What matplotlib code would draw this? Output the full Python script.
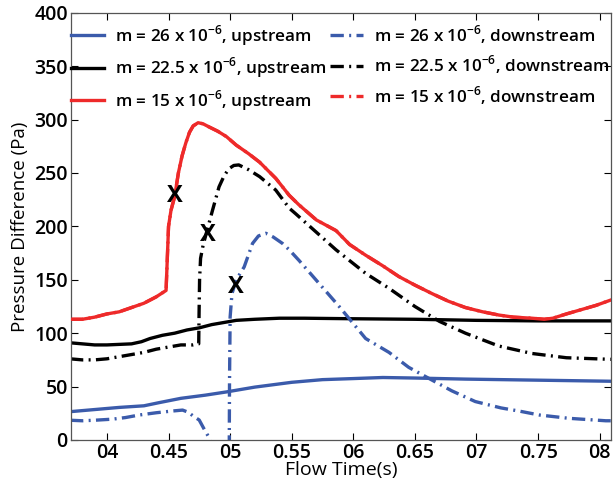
import numpy as np
import matplotlib
matplotlib.use('Agg')
import matplotlib.pyplot as plt

# ---- data ----
red_up_x = [0.370, 0.380, 0.390, 0.400, 0.410, 0.420, 0.430, 0.440, 0.448, 0.449, 0.450, 0.452,
            0.455, 0.458, 0.461, 0.464, 0.467, 0.470, 0.474, 0.478, 0.483, 0.490, 0.497, 0.505,
            0.515, 0.524, 0.537, 0.548, 0.556, 0.570, 0.586, 0.597, 0.610, 0.624, 0.637, 0.650,
            0.664, 0.677, 0.691, 0.705, 0.718, 0.730, 0.745, 0.755, 0.762, 0.773, 0.785, 0.797, 0.809]
red_up_y = [113, 113, 115, 118, 120, 124, 128, 134, 140, 170, 200, 215,
            228, 250, 266, 278, 288, 294, 297, 296, 293, 289, 284, 276,
            268, 260, 245, 229, 220, 206, 196, 183, 173, 163, 153, 145,
            137, 130, 124, 120, 117, 115, 114, 113, 114, 118, 122, 126, 131]
# downstream for m = 15e-6 lies under the upstream curve
red_dn_x = red_up_x
red_dn_y = red_up_y

blk_up_x = [0.370, 0.380, 0.390, 0.400, 0.410, 0.420, 0.428, 0.435, 0.445, 0.455, 0.465, 0.475,
            0.485, 0.495, 0.505, 0.520, 0.540, 0.560, 0.600, 0.650, 0.700, 0.750, 0.809]
blk_up_y = [91, 90, 89, 89, 89.5, 90, 92, 95, 98, 100, 103, 105,
            108, 110, 112, 113, 114, 114, 113.5, 113, 112, 111.5, 111.5]

blk_dn_x = [0.370, 0.380, 0.390, 0.400, 0.410, 0.420, 0.430, 0.440, 0.450, 0.460, 0.470, 0.4745,
            0.4748, 0.4752, 0.476, 0.478, 0.481, 0.4857, 0.491, 0.495, 0.499, 0.503, 0.507, 0.515,
            0.524, 0.537, 0.548, 0.553, 0.586, 0.610, 0.629, 0.650, 0.670, 0.691, 0.718, 0.745,
            0.773, 0.809]
blk_dn_y = [76, 75, 75, 76, 78, 80, 82, 85, 87, 89, 89, 90,
            120, 150, 170, 182, 195, 215, 237, 247, 254, 257, 257.5, 253,
            246.5, 234, 217, 212, 178, 156, 142, 125, 111, 100, 88, 81,
            77, 75.5]

blu_up_x = [0.370, 0.390, 0.410, 0.430, 0.4425, 0.460, 0.480, 0.497, 0.520, 0.550, 0.575, 0.600,
            0.624, 0.650, 0.691, 0.750, 0.809]
blu_up_y = [26.5, 28.5, 30.5, 32, 35, 39, 42, 45, 49.5, 54, 56.5, 57.5,
            58.5, 58, 57, 56, 55]

blu_dn_x = [0.370, 0.380, 0.390, 0.4045, 0.415, 0.4263, 0.440, 0.452, 0.4614, 0.466, 0.4705, 0.4749,
            0.479, 0.483, 0.487, 0.497, 0.4993, 0.4995, 0.500, 0.5015, 0.505, 0.5114, 0.5182, 0.523,
            0.529, 0.535, 0.5425, 0.548, 0.556, 0.5885, 0.610, 0.629, 0.645, 0.664, 0.680, 0.699,
            0.720, 0.735, 0.751, 0.775, 0.805, 0.809]
blu_dn_y = [18.5, 18, 18.5, 19.5, 21, 23.4, 25.5, 27, 28, 26, 22, 18.7,
            10, 2, -10, -10, -5, 53, 115, 137, 150, 162, 184, 191,
            193.5, 190, 184, 178, 168, 125, 95, 82, 68, 56, 46, 36,
            30, 27, 23.4, 20.3, 18, 18]

marks_x = [0.4555, 0.4817, 0.5047]
marks_y = [228, 192, 143.5]

xticks = [0.40, 0.45, 0.50, 0.55, 0.60, 0.65, 0.70, 0.75, 0.80]
xticklabels = ['04', '0.45', '05', '0.55', '06', '0.65', '07', '0.75', '08']

plt.rcParams['font.family'] = ['Open Sans', 'DejaVu Sans']
plt.rcParams['font.weight'] = 'semibold'

blue = '#3b5bab'
red = '#ee2a2a'
dashdot = (0, (4, 1.6, 0.6, 1.6))

fig = plt.figure(figsize=(6.14, 4.92), dpi=100)
ax = fig.add_axes([0.115, 0.1057, 0.8807, 0.8685])

lw = 2.4
ax.plot(red_dn_x, red_dn_y, color=red, lw=lw, ls=dashdot, zorder=1)
l1, = ax.plot(blu_up_x, blu_up_y, color=blue, lw=lw)
l2, = ax.plot(blk_up_x, blk_up_y, color='black', lw=lw)
l3, = ax.plot(red_up_x, red_up_y, color=red, lw=lw, zorder=3)
l4, = ax.plot(blu_dn_x, blu_dn_y, color=blue, lw=lw, ls=dashdot)
l5, = ax.plot(blk_dn_x, blk_dn_y, color='black', lw=lw, ls=dashdot)
l6, = ax.plot([], [], color=red, lw=lw, ls=dashdot)

for mx, my in zip(marks_x, marks_y):
    ax.text(mx, my, 'X', fontsize=17, fontweight='bold', ha='center', va='center', zorder=5)

sup = r'$^{\mathregular{-6}}$'
labels = ['m = 26 x 10' + sup + ', upstream',
          'm = 22.5 x 10' + sup + ', upstream',
          'm = 15 x 10' + sup + ', upstream',
          'm = 26 x 10' + sup + ', downstream',
          'm = 22.5 x 10' + sup + ', downstream',
          'm = 15 x 10' + sup + ', downstream']
ax.legend([l1, l2, l3, l4, l5, l6], labels, ncol=2, frameon=False, fontsize=12.3,
          loc='upper left', bbox_to_anchor=(0.0, 0.975), handlelength=1.95,
          handletextpad=0.65, columnspacing=0.2, labelspacing=0.45, borderaxespad=0,
          borderpad=0)

ax.set_xlim(0.3705, 0.8095)
ax.set_ylim(0, 400)
ax.set_xticks(xticks)
ax.set_xticklabels(xticklabels)
ax.set_yticks(np.arange(0, 401, 50))
ax.tick_params(direction='in', top=True, right=True, labelsize=14, length=5, width=0.8, pad=2)
for s in ax.spines.values():
    s.set_color('#555555')
    s.set_linewidth(0.9)
ax.set_xlabel('Flow Time(s)', fontsize=14, labelpad=-1)
ax.set_ylabel('Pressure Difference (Pa)', fontsize=13.5, labelpad=4)

fig.savefig('out.png', dpi=100)
